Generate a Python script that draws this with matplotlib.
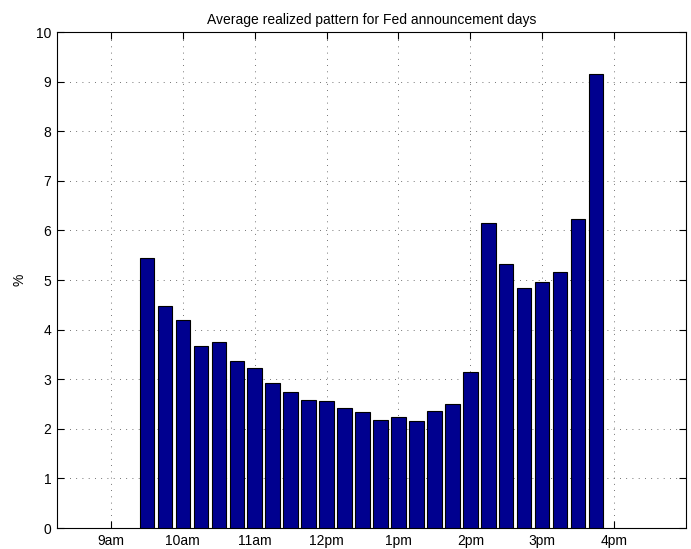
import numpy as np
import matplotlib
matplotlib.use('Agg')
import matplotlib.pyplot as plt

plt.rcParams['font.family'] = ['Liberation Sans', 'DejaVu Sans']

# 15-minute intervals, 9:30 .. 15:45 (hours)
times = np.arange(9.5, 16.0, 0.25)
values = [5.45, 4.47, 4.20, 3.67, 3.75, 3.36, 3.23, 2.92, 2.75, 2.59,
          2.56, 2.41, 2.33, 2.17, 2.23, 2.15, 2.35, 2.50, 3.14, 6.14,
          5.32, 4.83, 4.95, 5.16, 6.23, 9.16]
tick_pos = [9, 10, 11, 12, 13, 14, 15, 16]
tick_labels = ['9am', '10am', '11am', '12pm', '1pm', '2pm', '3pm', '4pm']

fig = plt.figure(figsize=(6.91, 5.49), dpi=100)
ax = fig.add_axes([57/691, 1-528/549, (686-57)/691, (528-32)/549])

ax.bar(times, values, width=0.2, color='#00008F', edgecolor='black',
       linewidth=0.8, zorder=3)

ax.set_xlim(8.25, 17.0)
ax.set_ylim(0, 10)
ax.set_xticks(tick_pos)
ax.set_xticklabels(tick_labels)
ax.set_yticks(range(0, 11))
ax.tick_params(direction='in', top=True, right=True, length=5, width=0.8,
               labelsize=10, pad=4)
ax.grid(True, linestyle=(0, (1, 6.5)), color='#444444', linewidth=0.6, zorder=0)
for s in ax.spines.values():
    s.set_linewidth(0.8)

ax.set_title('Average realized pattern for Fed announcement days', fontsize=10, pad=6)
ax.set_ylabel('%', fontsize=10, labelpad=7)

plt.savefig('out.png', dpi=100)
plt.close()
